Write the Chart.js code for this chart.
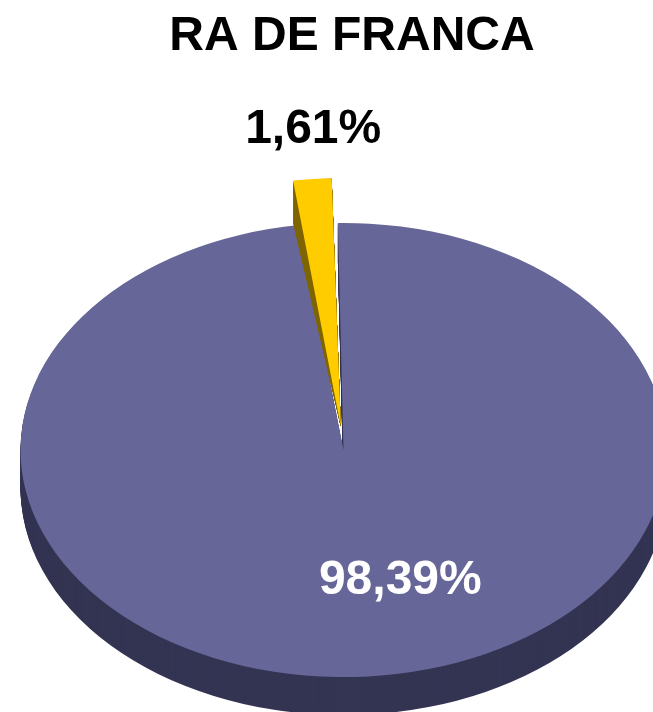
<!DOCTYPE html>
<html>
<head>
<meta charset="utf-8">
<style>
html,body{margin:0;padding:0;background:#fff;overflow:hidden}
#wrap{position:relative;width:653px;height:712px}
</style>
<script src="https://cdn.jsdelivr.net/npm/chart.js@4"></script>
</head>
<body>
<div id="wrap"><canvas id="c" width="653" height="712"></canvas></div>
<script>
const titleText = 'RA DE FRANCA';
const categories = ['Outros', 'RA de Franca'];
const values = [98.39, 1.61];
const valueLabels = ['98,39%', '1,61%'];
const topColors = ['#666699', '#FFCC00'];
const sideColors = ['#343453', '#7F6600'];
const labelColors = ['#FFFFFF', '#000000'];
const labelNudges = [[45, -96], [-18.5, -94]];

const CENTER = {x: 343.5, y: 450};
const TILT = 0.703;
const DEPTH = 38;
const WALL_SHEAR = -0.89;
const DEG = Math.PI / 180;
// perspective widening of each sector's drawn edges: [start, end] in degrees
const SPREAD = [[0.3, -0.8], [-1.45, 0.6]];
const FONT = '"Liberation Sans", Arial, Helvetica, sans-serif';

function project(ctx, arc) {
  ctx.translate(CENTER.x, CENTER.y);
  ctx.scale(1, TILT);
  ctx.translate(-arc.x, -arc.y);
}
function drawWith(ctx, arc, color) {
  const saved = arc.options;
  arc.options = Object.assign({}, saved, {backgroundColor: color});
  arc.draw(ctx);
  arc.options = saved;
}
const pie3d = {
  id: 'pie3d',
  beforeDatasetDraw(chart, args) {
    const ctx = chart.ctx;
    const arcs = args.meta.data;
    const main = arcs[0], slice = arcs[1];
    const base = arcs.map(a => [a.startAngle, a.endAngle]);
    arcs.forEach((a, i) => {
      a.startAngle = base[i][0] + SPREAD[i][0] * DEG;
      a.endAngle = base[i][1] + SPREAD[i][1] * DEG;
    });

    for (let dy = DEPTH; dy >= 1; dy--) {
      ctx.save();
      ctx.translate(0, dy);
      project(ctx, main);
      drawWith(ctx, main, sideColors[0]);
      ctx.restore();
    }
    ctx.save();
    project(ctx, main);
    drawWith(ctx, main, topColors[0]);
    ctx.restore();

    const mid = (slice.startAngle + slice.endAngle) / 2;
    const shift = slice.options.offset / 4;
    const tipX = CENTER.x + Math.cos(mid) * shift;
    const tipY = CENTER.y + Math.sin(mid) * shift * TILT;
    const steps = 40;
    for (let i = steps; i >= 1; i--) {
      ctx.save();
      ctx.translate(tipX, tipY);
      ctx.transform(1, WALL_SHEAR * i / steps, 0, 1, 0, 0);
      ctx.translate(-tipX, -tipY);
      project(ctx, slice);
      drawWith(ctx, slice, sideColors[1]);
      ctx.restore();
    }
    ctx.save();
    project(ctx, slice);
    drawWith(ctx, slice, topColors[1]);
    ctx.restore();

    arcs.forEach((a, i) => {
      a.startAngle = base[i][0];
      a.endAngle = base[i][1];
    });
    return false;
  },
  afterDraw(chart) {
    const ctx = chart.ctx;
    const arcs = chart.getDatasetMeta(0).data;
    ctx.save();
    ctx.font = 'bold 48px ' + FONT;
    ctx.textAlign = 'center';
    ctx.textBaseline = 'middle';
    arcs.forEach((arc, i) => {
      const mid = (arc.startAngle + arc.endAngle) / 2;
      const r = arc.outerRadius;
      const px = CENTER.x + Math.cos(mid) * r * 0.5 + labelNudges[i][0];
      const py = CENTER.y + Math.sin(mid) * r * TILT + labelNudges[i][1];
      ctx.fillStyle = labelColors[i];
      ctx.fillText(valueLabels[i], px, py);
    });
    ctx.restore();
  }
};

new Chart(document.getElementById('c'), {
  type: 'pie',
  data: {
    labels: categories,
    datasets: [{
      data: values,
      backgroundColor: topColors,
      borderWidth: 0,
      offset: [0, 134],
      radius: 323,
      clip: false
    }]
  },
  options: {
    responsive: false,
    animation: false,
    rotation: -1.3,
    layout: {padding: {left: 51, right: 0, top: 8, bottom: 0}},
    plugins: {
      legend: {display: false},
      tooltip: {enabled: false},
      title: {
        display: true,
        text: titleText,
        color: '#000',
        font: {family: FONT, size: 48, weight: 'bold'},
        padding: 0
      }
    }
  },
  plugins: [pie3d]
});
</script>
</body>
</html>
